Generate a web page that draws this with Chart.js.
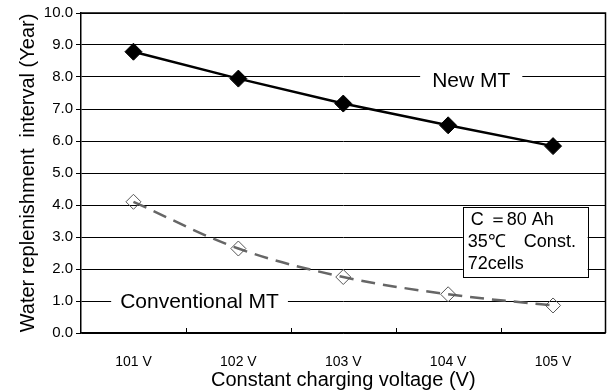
<!DOCTYPE html>
<html>
<head>
<meta charset="utf-8">
<script src="https://cdn.jsdelivr.net/npm/chart.js@4"></script>
<style>
  body { margin: 0; background: #fff; }
  #wrap { width: 615px; height: 390px; }
</style>
</head>
<body>
<div id="wrap"><canvas id="grafica" width="615" height="390"></canvas></div>
<script>
// Datos
const voltajes = ["101 V", "102 V", "103 V", "104 V", "105 V"];
const nuevoMT = [8.79, 7.95, 7.17, 6.49, 5.84];
const convencionalMT = [4.1, 2.64, 1.75, 1.21, 0.86];
const ticksY = [0, 1, 2, 3, 4, 5, 6, 7, 8, 9, 10];
const notaCaja = ["C \uFF1D80 Ah", "35\u2103\u3000Const.", "72cells"];

const fuente = "'Liberation Sans', Arial, sans-serif";

// Plugin propio para las etiquetas, la caja de condiciones y el marco
const anotaciones = {
    id: 'anotaciones',
    beforeDatasetsDraw(chart) {
        const { ctx, chartArea, scales: { x, y } } = chart;
        ctx.save();
        // marcas cortas del eje X hacia dentro
        ctx.strokeStyle = '#000';
        ctx.lineWidth = 1;
        for (let i = 0; i < voltajes.length - 1; i++) {
            const px = Math.round(x.getPixelForValue(i + 0.5)) + 0.5;
            ctx.beginPath();
            ctx.moveTo(px, chartArea.bottom);
            ctx.lineTo(px, chartArea.bottom - 5);
            ctx.stroke();
        }
        // etiquetas de las series con fondo blanco que corta la rejilla
        ctx.font = '21px ' + fuente;
        ctx.textAlign = 'center';
        ctx.textBaseline = 'middle';
        const etiquetas = [
            { text: 'New MT', x: 3.22, y: 7.9, pad: 12 },
            { text: 'Conventional MT', x: 0.63, y: 1.0, pad: 9 }
        ];
        etiquetas.forEach(e => {
            const px = x.getPixelForValue(e.x);
            const py = y.getPixelForValue(e.y);
            const w = ctx.measureText(e.text).width + e.pad * 2;
            ctx.fillStyle = '#fff';
            ctx.fillRect(px - w / 2, py - 11, w, 22);
            ctx.fillStyle = '#000';
            ctx.fillText(e.text, px, py + 1);
        });
        ctx.restore();
    },
    afterDraw(chart) {
        const { ctx, chartArea, scales: { x, y } } = chart;
        ctx.save();
        // caja de condiciones
        const x0 = x.getPixelForValue(3.14), x1 = x.getPixelForValue(4.33);
        const y0 = y.getPixelForValue(3.95), y1 = y.getPixelForValue(1.75);
        ctx.fillStyle = '#fff';
        ctx.fillRect(x0, y0, x1 - x0, y1 - y0);
        ctx.strokeStyle = '#000';
        ctx.lineWidth = 1;
        ctx.strokeRect(Math.round(x0) + 0.5, Math.round(y0) + 0.5, Math.round(x1 - x0), Math.round(y1 - y0));
        ctx.fillStyle = '#000';
        ctx.font = '18px ' + fuente;
        ctx.textAlign = 'left';
        ctx.textBaseline = 'middle';
        notaCaja.forEach((t, i) => {
            ctx.fillText(t, x0 + 5 + (i === 0 ? 3 : 0), y0 + 13 + i * 22);
        });
        // marco superior y derecho
        ctx.lineWidth = 1.5;
        ctx.beginPath();
        ctx.moveTo(chartArea.left, chartArea.top);
        ctx.lineTo(chartArea.right, chartArea.top);
        ctx.lineTo(chartArea.right, chartArea.bottom);
        ctx.stroke();
        ctx.restore();
    }
};

const $grafica = document.querySelector("#grafica");

new Chart($grafica, {
    type: 'line',
    data: {
        labels: voltajes,
        datasets: [
            {
                label: 'New MT',
                data: nuevoMT,
                borderColor: '#000',
                borderWidth: 2.5,
                backgroundColor: '#000',
                pointStyle: 'rectRot',
                pointRadius: 8.5,
                pointBorderWidth: 1,
                tension: 0
            },
            {
                label: 'Conventional MT',
                data: convencionalMT,
                borderColor: '#666',
                borderWidth: 2.5,
                borderDash: [14, 8],
                pointStyle: 'rectRot',
                pointRadius: 7.5,
                pointBorderWidth: 1,
                pointBorderColor: '#555',
                pointBackgroundColor: 'rgba(255,255,255,0)',
                tension: 0.35
            }
        ]
    },
    options: {
        responsive: false,
        animation: false,
        layout: { padding: { top: 13, right: 5, left: 14, bottom: 0 } },
        plugins: {
            legend: { display: false },
            tooltip: { enabled: false }
        },
        scales: {
            x: {
                offset: true,
                grid: { display: false },
                border: { color: '#000', width: 1.5 },
                ticks: { color: '#000', font: { family: fuente, size: 14 }, padding: 13 },
                title: {
                    display: true,
                    text: 'Constant charging voltage (V)',
                    color: '#000',
                    font: { family: fuente, size: 20, lineHeight: 1 },
                    padding: { top: 0, bottom: 0 }
                },
                afterFit: s => { s.height = 57; }
            },
            y: {
                min: 0,
                max: 10,
                afterBuildTicks: s => { s.ticks = ticksY.map(v => ({ value: v })); },
                grid: { color: '#000', lineWidth: 1, tickLength: 5 },
                border: { color: '#000', width: 1.5 },
                ticks: {
                    color: '#000',
                    font: { family: fuente, size: 15 },
                    padding: 3,
                    callback: v => v.toFixed(1)
                },
                title: {
                    display: true,
                    text: 'Water replenishment  interval (Year)',
                    color: '#000',
                    font: { family: fuente, size: 20 },
                    padding: { top: 2, bottom: 0 }
                },
                afterFit: s => { s.width = 67; }
            }
        }
    },
    plugins: [anotaciones]
});
</script>
</body>
</html>
